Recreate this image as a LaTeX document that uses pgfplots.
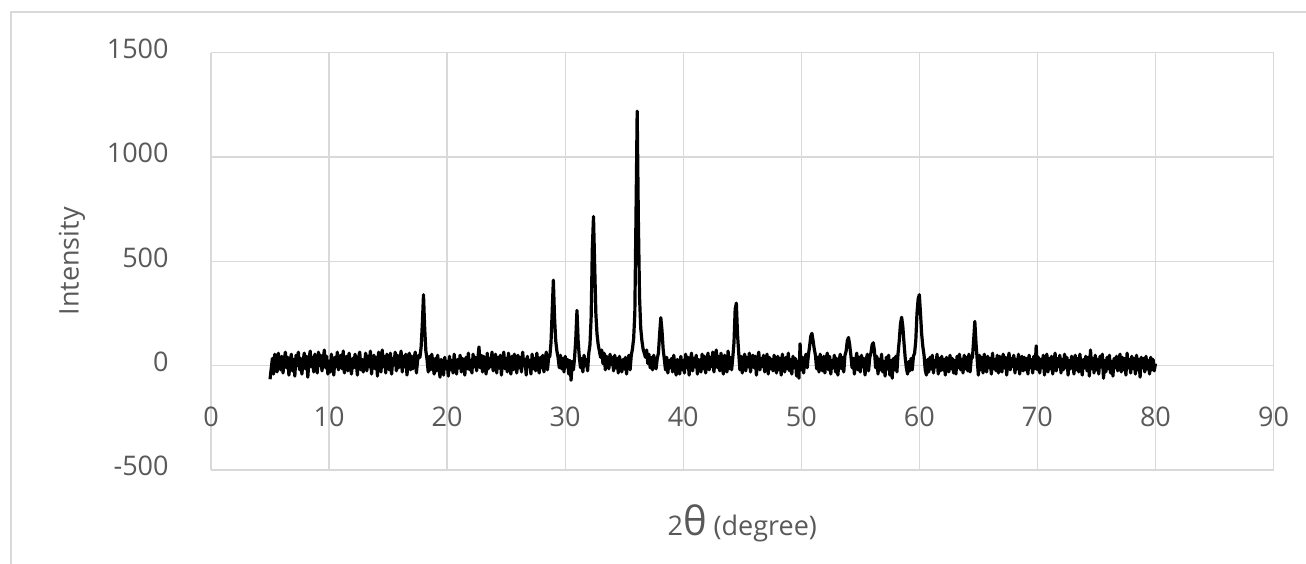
\documentclass[border=0pt]{standalone}
\usepackage{pgfplots}
\pgfplotsset{compat=1.18}
\usepackage{pgfplotstable}
\usepackage{fontspec}
\setmainfont{Open Sans}
\definecolor{gridgray}{HTML}{D9D9D9}
\definecolor{txtgray}{HTML}{595959}
\pgfplotstableread[row sep=\\]{
x y\\
5.0 -65\\ 5.1 -15\\ 5.2 35\\ 5.3 -40\\ 5.4 55\\ 5.5 5\\ 5.6 -30\\ 5.7 60\\ 5.8 20\\ 5.9 -20\\
6.0 45\\ 6.1 -35\\ 6.2 25\\ 6.3 65\\ 6.4 -10\\ 6.5 40\\ 6.6 -45\\ 6.7 15\\ 6.8 55\\ 6.9 -25\\
7.0 30\\ 7.1 -50\\ 7.2 50\\ 7.3 0\\ 7.4 65\\ 7.5 -20\\ 7.6 35\\ 7.7 -40\\ 7.8 20\\ 7.9 60\\
8.0 -15\\ 8.1 45\\ 8.2 -55\\ 8.3 25\\ 8.4 70\\ 8.5 -5\\ 8.6 40\\ 8.7 -30\\ 8.8 55\\ 8.9 10\\
9.0 -35\\ 9.1 65\\ 9.2 0\\ 9.3 50\\ 9.4 -25\\ 9.5 30\\ 9.6 75\\ 9.7 -10\\ 9.8 45\\ 9.9 -40\\
10.0 20\\ 10.1 -30\\ 10.2 55\\ 10.3 5\\ 10.4 -45\\ 10.5 40\\ 10.6 -5\\ 10.7 65\\ 10.8 -20\\ 10.9 35\\
11.0 50\\ 11.1 -15\\ 11.2 70\\ 11.3 -35\\ 11.4 25\\ 11.5 45\\ 11.6 -25\\ 11.7 60\\ 11.8 0\\ 11.9 -40\\
12.0 35\\ 12.1 -10\\ 12.2 55\\ 12.3 15\\ 12.4 -45\\ 12.5 40\\ 12.6 65\\ 12.7 -20\\ 12.8 30\\ 12.9 -30\\
13.0 10\\ 13.1 60\\ 13.2 -25\\ 13.3 45\\ 13.4 -5\\ 13.5 70\\ 13.6 -40\\ 13.7 25\\ 13.8 50\\ 13.9 -15\\
14.0 40\\ 14.1 -50\\ 14.2 65\\ 14.3 10\\ 14.4 -30\\ 14.5 75\\ 14.6 -5\\ 14.7 45\\ 14.8 -35\\ 14.9 55\\
15.0 20\\ 15.1 -20\\ 15.2 60\\ 15.3 -40\\ 15.4 35\\ 15.5 5\\ 15.6 65\\ 15.7 -25\\ 15.8 50\\ 15.9 -10\\
16.0 30\\ 16.1 70\\ 16.2 -30\\ 16.3 45\\ 16.4 -5\\ 16.5 55\\ 16.6 -45\\ 16.7 20\\ 16.8 60\\ 16.9 -20\\
17.0 45\\ 17.1 -15\\ 17.2 35\\ 17.3 65\\ 17.4 -35\\ 17.5 25\\ 17.6 50\\ 17.7 40\\ 17.8 90\\ 17.9 200\\
18.0 340\\ 18.1 180\\ 18.2 70\\ 18.3 30\\ 18.4 -30\\ 18.5 45\\ 18.6 -20\\ 18.7 55\\ 18.8 10\\ 18.9 -40\\
19.0 35\\ 19.1 -25\\ 19.2 50\\ 19.3 -5\\ 19.4 -55\\ 19.5 30\\ 19.6 10\\ 19.7 -45\\ 19.8 40\\ 19.9 -15\\
20.0 20\\ 20.1 -50\\ 20.2 45\\ 20.3 -20\\ 20.4 25\\ 20.5 -35\\ 20.6 55\\ 20.7 0\\ 20.8 -40\\ 20.9 30\\
21.0 -10\\ 21.1 50\\ 21.2 -30\\ 21.3 35\\ 21.4 5\\ 21.5 -45\\ 21.6 40\\ 21.7 -15\\ 21.8 60\\ 21.9 -20\\
22.0 25\\ 22.1 -35\\ 22.2 55\\ 22.3 -5\\ 22.4 40\\ 22.5 -25\\ 22.6 30\\ 22.7 90\\ 22.8 -10\\ 22.9 50\\
23.0 -30\\ 23.1 45\\ 23.2 15\\ 23.3 -40\\ 23.4 60\\ 23.5 -15\\ 23.6 35\\ 23.7 -5\\ 23.8 65\\ 23.9 -25\\
24.0 20\\ 24.1 55\\ 24.2 -35\\ 24.3 40\\ 24.4 -10\\ 24.5 50\\ 24.6 -45\\ 24.7 30\\ 24.8 65\\ 24.9 -15\\
25.0 35\\ 25.1 -30\\ 25.2 60\\ 25.3 5\\ 25.4 -40\\ 25.5 45\\ 25.6 -20\\ 25.7 55\\ 25.8 10\\ 25.9 -35\\
26.0 50\\ 26.1 -10\\ 26.2 40\\ 26.3 -30\\ 26.4 65\\ 26.5 0\\ 26.6 30\\ 26.7 -45\\ 26.8 45\\ 26.9 -5\\
27.0 25\\ 27.1 -40\\ 27.2 55\\ 27.3 -15\\ 27.4 35\\ 27.5 -25\\ 27.6 60\\ 27.7 5\\ 27.8 -35\\ 27.9 40\\
28.0 -10\\ 28.1 50\\ 28.2 -30\\ 28.3 30\\ 28.4 65\\ 28.5 -20\\ 28.6 40\\ 28.7 45\\ 28.8 110\\ 28.9 260\\
29.0 410\\ 29.1 230\\ 29.2 120\\ 29.3 70\\ 29.4 40\\ 29.5 -10\\ 29.6 50\\ 29.7 -15\\ 29.8 35\\ 29.9 -30\\
30.0 45\\ 30.1 -5\\ 30.2 30\\ 30.3 -40\\ 30.4 25\\ 30.5 -70\\ 30.6 20\\ 30.7 -20\\ 30.8 40\\ 30.9 130\\
31.0 265\\ 31.1 120\\ 31.2 40\\ 31.3 -10\\ 31.4 35\\ 31.5 -30\\ 31.6 50\\ 31.7 0\\ 31.8 30\\ 31.9 -25\\
32.0 60\\ 32.1 100\\ 32.2 230\\ 32.3 560\\ 32.4 715\\ 32.5 480\\ 32.6 250\\ 32.7 150\\ 32.8 100\\ 32.9 70\\
33.0 40\\ 33.1 75\\ 33.2 10\\ 33.3 60\\ 33.4 -20\\ 33.5 45\\ 33.6 30\\ 33.7 -15\\ 33.8 55\\ 33.9 5\\
34.0 40\\ 34.1 -25\\ 34.2 50\\ 34.3 -10\\ 34.4 35\\ 34.5 -35\\ 34.6 45\\ 34.7 0\\ 34.8 -30\\ 34.9 30\\
35.0 -15\\ 35.1 40\\ 35.2 -40\\ 35.3 25\\ 35.4 50\\ 35.5 -20\\ 35.6 50\\ 35.7 80\\ 35.8 130\\ 35.9 250\\
36.0 720\\ 36.1 1220\\ 36.2 700\\ 36.3 330\\ 36.4 180\\ 36.5 120\\ 36.6 80\\ 36.7 60\\ 36.8 40\\ 36.9 75\\
37.0 10\\ 37.1 55\\ 37.2 -10\\ 37.3 40\\ 37.4 -20\\ 37.5 50\\ 37.6 5\\ 37.7 -15\\ 37.8 35\\ 37.9 60\\
38.0 150\\ 38.1 230\\ 38.2 170\\ 38.3 80\\ 38.4 30\\ 38.5 -20\\ 38.6 40\\ 38.7 -35\\ 38.8 25\\ 38.9 -10\\
39.0 35\\ 39.1 -30\\ 39.2 50\\ 39.3 -5\\ 39.4 -45\\ 39.5 30\\ 39.6 10\\ 39.7 -40\\ 39.8 45\\ 39.9 -20\\
40.0 25\\ 40.1 -35\\ 40.2 55\\ 40.3 -10\\ 40.4 40\\ 40.5 -45\\ 40.6 20\\ 40.7 60\\ 40.8 -25\\ 40.9 35\\
41.0 -5\\ 41.1 50\\ 41.2 -40\\ 41.3 30\\ 41.4 5\\ 41.5 -30\\ 41.6 55\\ 41.7 -15\\ 41.8 45\\ 41.9 -35\\
42.0 20\\ 42.1 60\\ 42.2 -20\\ 42.3 40\\ 42.4 -5\\ 42.5 65\\ 42.6 -30\\ 42.7 35\\ 42.8 75\\ 42.9 -10\\
43.0 45\\ 43.1 -25\\ 43.2 60\\ 43.3 0\\ 43.4 -40\\ 43.5 50\\ 43.6 15\\ 43.7 -30\\ 43.8 70\\ 43.9 -15\\
44.0 40\\ 44.1 -20\\ 44.2 40\\ 44.3 110\\ 44.4 270\\ 44.5 300\\ 44.6 150\\ 44.7 60\\ 44.8 -20\\ 44.9 45\\
45.0 -35\\ 45.1 25\\ 45.2 55\\ 45.3 -25\\ 45.4 40\\ 45.5 -5\\ 45.6 60\\ 45.7 -30\\ 45.8 20\\ 45.9 50\\
46.0 -10\\ 46.1 45\\ 46.2 -45\\ 46.3 30\\ 46.4 65\\ 46.5 -20\\ 46.6 35\\ 46.7 -5\\ 46.8 50\\ 46.9 -30\\
47.0 25\\ 47.1 55\\ 47.2 -40\\ 47.3 40\\ 47.4 -15\\ 47.5 30\\ 47.6 -25\\ 47.7 50\\ 47.8 5\\ 47.9 -35\\
48.0 45\\ 48.1 -20\\ 48.2 35\\ 48.3 -45\\ 48.4 55\\ 48.5 0\\ 48.6 -30\\ 48.7 40\\ 48.8 -15\\ 48.9 60\\
49.0 -25\\ 49.1 30\\ 49.2 -40\\ 49.3 45\\ 49.4 -10\\ 49.5 35\\ 49.6 -50\\ 49.7 20\\ 49.8 -60\\ 49.9 105\\
50.0 -20\\ 50.1 40\\ 50.2 -35\\ 50.3 30\\ 50.4 55\\ 50.5 -10\\ 50.6 50\\ 50.7 90\\ 50.8 140\\ 50.9 155\\
51.0 120\\ 51.1 80\\ 51.2 50\\ 51.3 -15\\ 51.4 40\\ 51.5 -30\\ 51.6 55\\ 51.7 5\\ 51.8 -25\\ 51.9 45\\
52.0 -35\\ 52.1 30\\ 52.2 60\\ 52.3 -20\\ 52.4 45\\ 52.5 -40\\ 52.6 25\\ 52.7 -10\\ 52.8 50\\ 52.9 -30\\
53.0 35\\ 53.1 -45\\ 53.2 20\\ 53.3 55\\ 53.4 -15\\ 53.5 40\\ 53.6 -30\\ 53.7 50\\ 53.8 70\\ 53.9 120\\
54.0 135\\ 54.1 100\\ 54.2 50\\ 54.3 -10\\ 54.4 35\\ 54.5 -40\\ 54.6 25\\ 54.7 60\\ 54.8 -20\\ 54.9 40\\
55.0 -30\\ 55.1 50\\ 55.2 -5\\ 55.3 35\\ 55.4 -45\\ 55.5 30\\ 55.6 55\\ 55.7 -25\\ 55.8 40\\ 55.9 60\\
56.0 100\\ 56.1 110\\ 56.2 70\\ 56.3 -10\\ 56.4 45\\ 56.5 -40\\ 56.6 30\\ 56.7 -20\\ 56.8 55\\ 56.9 -30\\
57.0 20\\ 57.1 -50\\ 57.2 40\\ 57.3 -15\\ 57.4 50\\ 57.5 -45\\ 57.6 25\\ 57.7 -60\\ 57.8 35\\ 57.9 -20\\
58.0 45\\ 58.1 -30\\ 58.2 60\\ 58.3 120\\ 58.4 200\\ 58.5 232\\ 58.6 190\\ 58.7 110\\ 58.8 40\\ 58.9 -10\\
59.0 -40\\ 59.1 20\\ 59.2 -25\\ 59.3 35\\ 59.4 -20\\ 59.5 45\\ 59.6 60\\ 59.7 120\\ 59.8 250\\ 59.9 320\\
60.0 340\\ 60.1 250\\ 60.2 150\\ 60.3 90\\ 60.4 50\\ 60.5 -20\\ 60.6 -45\\ 60.7 30\\ 60.8 -30\\ 60.9 40\\
61.0 -15\\ 61.1 50\\ 61.2 -35\\ 61.3 25\\ 61.4 -5\\ 61.5 55\\ 61.6 -40\\ 61.7 35\\ 61.8 -25\\ 61.9 45\\
62.0 -20\\ 62.1 30\\ 62.2 -45\\ 62.3 40\\ 62.4 10\\ 62.5 -30\\ 62.6 50\\ 62.7 -15\\ 62.8 35\\ 62.9 -35\\
63.0 25\\ 63.1 -40\\ 63.2 45\\ 63.3 -10\\ 63.4 55\\ 63.5 -20\\ 63.6 30\\ 63.7 -35\\ 63.8 50\\ 63.9 -15\\
64.0 40\\ 64.1 -25\\ 64.2 55\\ 64.3 -30\\ 64.4 35\\ 64.5 40\\ 64.6 120\\ 64.7 212\\ 64.8 110\\ 64.9 30\\
65.0 -45\\ 65.1 50\\ 65.2 -20\\ 65.3 40\\ 65.4 -35\\ 65.5 55\\ 65.6 5\\ 65.7 -30\\ 65.8 45\\ 65.9 -10\\
66.0 35\\ 66.1 -40\\ 66.2 60\\ 66.3 -15\\ 66.4 30\\ 66.5 -25\\ 66.6 50\\ 66.7 -35\\ 66.8 45\\ 66.9 0\\
67.0 -30\\ 67.1 55\\ 67.2 -10\\ 67.3 40\\ 67.4 -45\\ 67.5 25\\ 67.6 60\\ 67.7 -20\\ 67.8 35\\ 67.9 -5\\
68.0 50\\ 68.1 -35\\ 68.2 30\\ 68.3 -15\\ 68.4 55\\ 68.5 -40\\ 68.6 20\\ 68.7 45\\ 68.8 -25\\ 68.9 40\\
69.0 -20\\ 69.1 35\\ 69.2 -40\\ 69.3 50\\ 69.4 -10\\ 69.5 30\\ 69.6 -35\\ 69.7 45\\ 69.8 -15\\ 69.9 95\\
70.0 -20\\ 70.1 40\\ 70.2 -35\\ 70.3 30\\ 70.4 -10\\ 70.5 50\\ 70.6 -45\\ 70.7 25\\ 70.8 55\\ 70.9 -30\\
71.0 35\\ 71.1 -15\\ 71.2 45\\ 71.3 -40\\ 71.4 20\\ 71.5 60\\ 71.6 -25\\ 71.7 35\\ 71.8 -5\\ 71.9 50\\
72.0 -35\\ 72.1 30\\ 72.2 -20\\ 72.3 55\\ 72.4 -10\\ 72.5 40\\ 72.6 -45\\ 72.7 25\\ 72.8 -15\\ 72.9 45\\
73.0 10\\ 73.1 -40\\ 73.2 50\\ 73.3 -20\\ 73.4 35\\ 73.5 -30\\ 73.6 55\\ 73.7 -5\\ 73.8 -45\\ 73.9 30\\
74.0 -10\\ 74.1 45\\ 74.2 -25\\ 74.3 40\\ 74.4 -50\\ 74.5 75\\ 74.6 -15\\ 74.7 35\\ 74.8 -35\\ 74.9 50\\
75.0 -20\\ 75.1 30\\ 75.2 -40\\ 75.3 45\\ 75.4 -5\\ 75.5 55\\ 75.6 -60\\ 75.7 25\\ 75.8 -30\\ 75.9 40\\
76.0 -15\\ 76.1 50\\ 76.2 -35\\ 76.3 20\\ 76.4 -50\\ 76.5 35\\ 76.6 -10\\ 76.7 45\\ 76.8 -25\\ 76.9 30\\
77.0 55\\ 77.1 -30\\ 77.2 40\\ 77.3 -20\\ 77.4 35\\ 77.5 -45\\ 77.6 60\\ 77.7 -10\\ 77.8 30\\ 77.9 -35\\
78.0 45\\ 78.1 -15\\ 78.2 35\\ 78.3 -40\\ 78.4 50\\ 78.5 -20\\ 78.6 30\\ 78.7 -55\\ 78.8 40\\ 78.9 -10\\
79.0 35\\ 79.1 -30\\ 79.2 45\\ 79.3 -15\\ 79.4 25\\ 79.5 -40\\ 79.6 40\\ 79.7 -20\\ 79.8 30\\ 79.9 -25\\
80.0 10\\
}\xrd
\begin{document}
\begin{tikzpicture}
\draw[gridgray, line width=0.7pt] (5.5pt,-10pt) -- (5.5pt,275.5pt) -- (670pt,275.5pt);
\begin{axis}[
  at={(105.5pt,46.5pt)}, anchor=south west,
  scale only axis, width=531.25pt, height=208.65pt,
  xmin=0, xmax=90, ymin=-500, ymax=1500,
  xtick={0,10,...,90}, ytick={-500,0,500,1000,1500},
  xticklabels={0,10,20,30,40,50,60,70,80,90},
  yticklabels={-500,0,500,1000,1500},
  axis line style={draw=none},
  major tick length=0pt,
  grid=major,
  major grid style={draw=gridgray, line width=0.65pt},
  tick label style={font=\fontsize{13.5}{16}\selectfont, text=txtgray},
  xticklabel style={anchor=center, inner sep=0pt, yshift=26.5pt},
  yticklabel style={anchor=east, inner sep=0pt, xshift=-21pt, yshift=2pt},
  ylabel={Intensity},
  ylabel style={at={(axis description cs:-0.1308,0.5)}, anchor=center, font=\fontsize{13.5}{16}\selectfont, text=txtgray, inner sep=0pt},
  xlabel={2{\fontsize{20}{20}\selectfont θ} (degree)},
  xlabel style={at={(axis description cs:0.5,-0.127)}, anchor=center, font=\fontsize{13.5}{16}\selectfont, text=txtgray, inner sep=0pt},
]
\addplot[black, line width=1.6pt, line join=round, no markers] table[x=x, y=y] {\xrd};
\end{axis}
\pgfresetboundingbox
\useasboundingbox (0,0) rectangle (653pt,281.5pt);
\end{tikzpicture}
\end{document}
